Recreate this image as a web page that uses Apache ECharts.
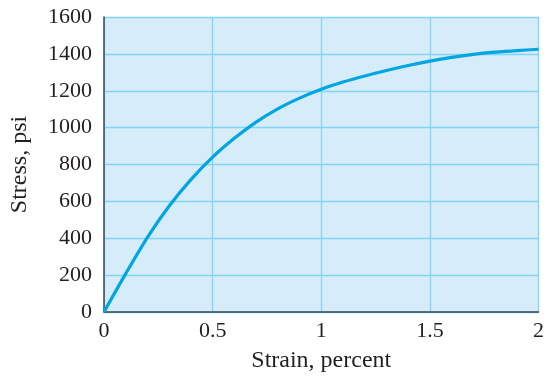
<!DOCTYPE html>
<html><head><meta charset="utf-8">
<script src="https://cdn.jsdelivr.net/npm/echarts@6/dist/echarts.min.js"></script>
<style>html,body{margin:0;padding:0;background:#fff}#c{width:547px;height:382px}</style>
</head><body><div id="c"></div>
<script>
const strain = [0,0.1,0.2,0.3,0.4,0.5,0.6,0.7,0.8,0.9,1.0,1.1,1.2,1.3,1.4,1.5,1.6,1.7,1.8,1.9,2.0];
const stress = [0,208,405,575,718,840,942,1030,1102,1160,1208,1247,1280,1310,1337,1361,1381,1397,1409,1418,1425];
const xTicks = [0,0.5,1,1.5,2];
const yTicks = [0,200,400,600,800,1000,1200,1400,1600];
const font = '"Liberation Serif", "DejaVu Serif", serif';
const chart = echarts.init(document.getElementById('c'));
chart.setOption({
  animation:false,
  grid:{left:104,right:5,top:17,bottom:70,show:true,backgroundColor:'#d6ecf9',borderWidth:0},
  xAxis:{type:'value',min:xTicks[0],max:xTicks[xTicks.length-1],interval:0.5,
    name:'Strain, percent',nameLocation:'middle',nameGap:37,
    nameTextStyle:{fontFamily:font,fontSize:24,color:'#231f20'},
    axisLine:{show:true,onZero:false,lineStyle:{color:'#3a4a55',width:1.5}},
    axisTick:{show:false},
    axisLabel:{fontFamily:font,fontSize:22,color:'#231f20',margin:8,formatter:v=>String(v)},
    splitLine:{show:true,lineStyle:{color:'#80d4f4',width:1.3}}},
  yAxis:{type:'value',min:yTicks[0],max:yTicks[yTicks.length-1],interval:200,
    name:'Stress, psi',nameLocation:'middle',nameGap:72,nameRotate:90,
    nameTextStyle:{fontFamily:font,fontSize:24,color:'#231f20'},
    axisLine:{show:true,lineStyle:{color:'#3a4a55',width:1.5}},
    axisTick:{show:false},
    axisLabel:{fontFamily:font,fontSize:22,color:'#231f20',margin:12,formatter:v=>String(v)},
    splitLine:{show:true,lineStyle:{color:'#80d4f4',width:1.3}}},
  series:[{type:'line',data:strain.map((x,i)=>[x,stress[i]]),smooth:0.3,showSymbol:false,
    lineStyle:{color:'#00a6e2',width:3.2}}]
});
</script></body></html>
